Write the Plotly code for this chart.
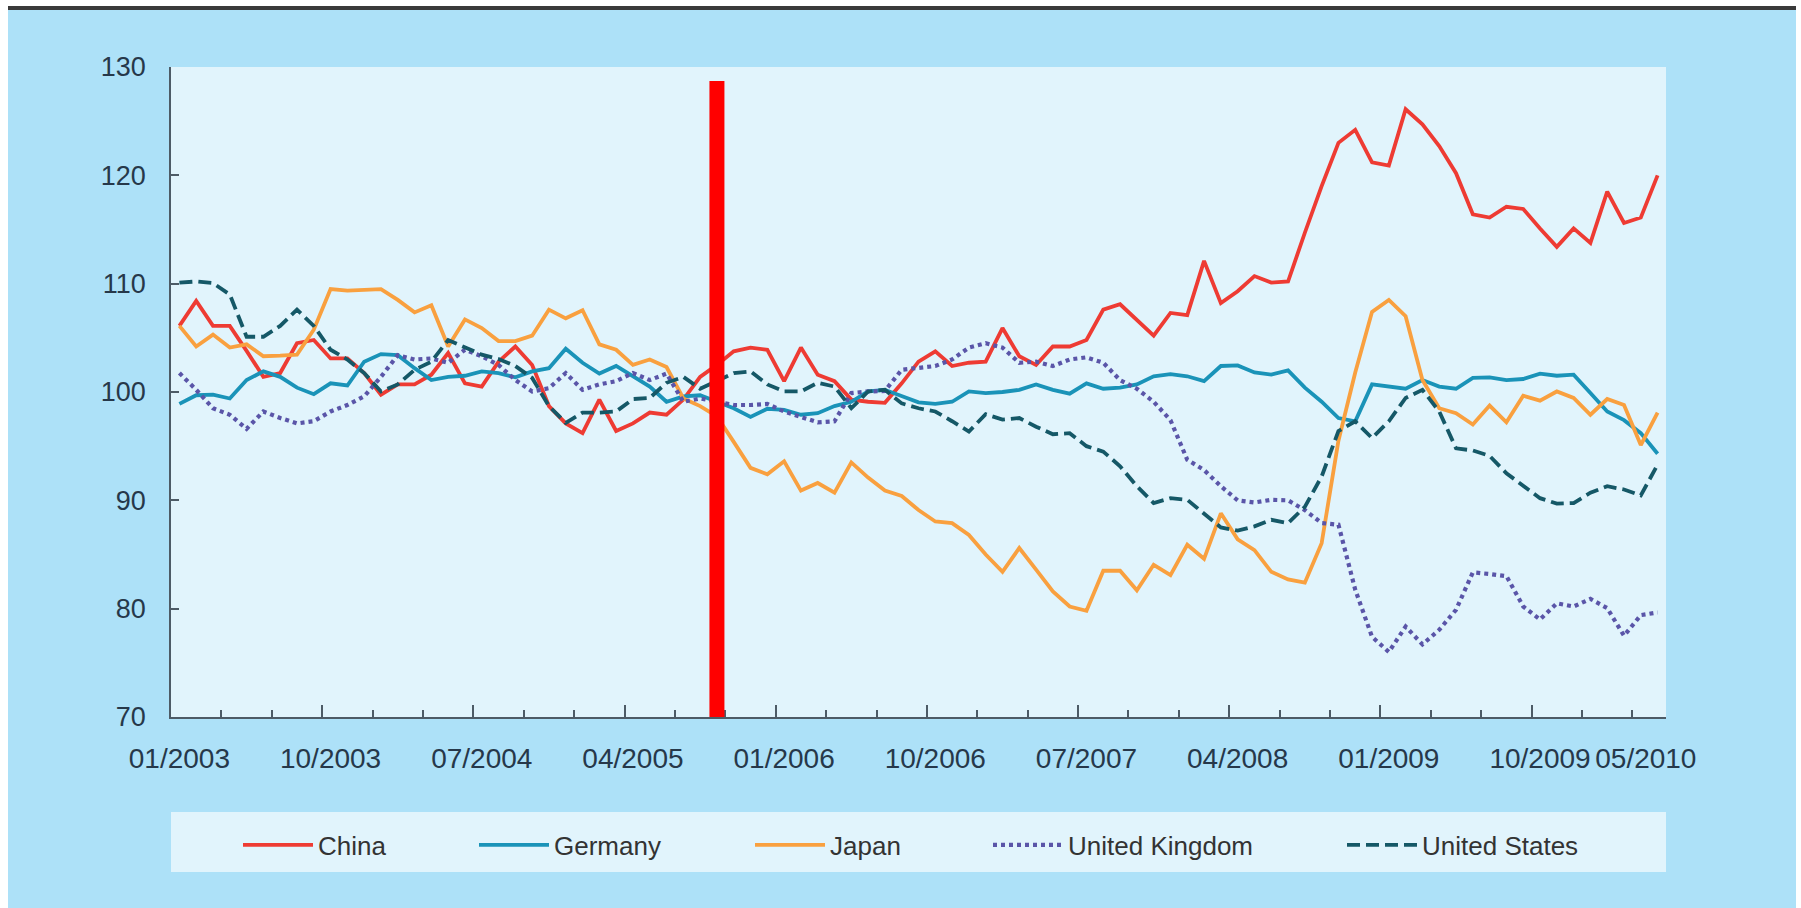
import plotly.graph_objects as go

# Monthly index values, 01/2003 .. 05/2010 (89 months)
months = [f"{m:02d}/{y}" for y in range(2003, 2011) for m in range(1, 13)][:89]

china = [106.1, 108.4, 106.1, 106.1, 103.8, 101.4, 101.75, 104.5, 104.8, 103.1,
         103.1, 101.75, 99.75, 100.7, 100.7, 101.6, 103.6, 100.8, 100.5, 102.8,
         104.2, 102.5, 98.7, 97.1, 96.2, 99.3, 96.4, 97.1, 98.1, 97.9,
         99.3, 101.4, 102.5, 103.75, 104.1, 103.9, 101.0, 104.1, 101.6, 101.0,
         99.3, 99.1, 99.0, 100.8, 102.8, 103.75, 102.4, 102.7, 102.8, 105.9,
         103.3, 102.5, 104.2, 104.2, 104.8, 107.6, 108.1, 106.7, 105.2, 107.3,
         107.1, 112.1, 108.2, 109.3, 110.7, 110.1, 110.2, 114.7, 119.0, 123.0,
         124.2, 121.2, 120.9, 126.1, 124.7, 122.7, 120.2, 116.4, 116.1, 117.1,
         116.9, 115.1, 113.4, 115.1, 113.75, 118.5, 115.6, 116.1, 120.0]

germany = [98.9, 99.7, 99.75, 99.4, 101.1, 101.9, 101.4, 100.4, 99.8, 100.8,
           100.6, 102.8, 103.5, 103.4, 102.2, 101.1, 101.4, 101.5, 101.9, 101.75,
           101.35, 101.9, 102.2, 104.0, 102.7, 101.7, 102.4, 101.4, 100.5, 99.1,
           99.6, 99.7, 99.1, 98.5, 97.7, 98.45, 98.35, 97.9, 98.05, 98.7,
           99.1, 100.05, 100.2, 99.6, 99.05, 98.9, 99.1, 100.05, 99.9, 100.0,
           100.2, 100.7, 100.2, 99.85, 100.8, 100.3, 100.4, 100.7, 101.45, 101.65,
           101.45, 101.0, 102.4, 102.45, 101.8, 101.6, 102.0, 100.4, 99.1, 97.6,
           97.3, 100.7, 100.5, 100.3, 101.1, 100.5, 100.3, 101.3, 101.35, 101.1,
           101.2, 101.7, 101.5, 101.6, 99.9, 98.2, 97.4, 96.2, 94.3]

japan = [106.1, 104.2, 105.3, 104.1, 104.4, 103.3, 103.35, 103.45, 105.75, 109.5,
         109.35, 109.4, 109.5, 108.5, 107.35, 108.0, 104.2, 106.7, 105.9, 104.7,
         104.7, 105.2, 107.6, 106.8, 107.55, 104.4, 103.9, 102.5, 103.0, 102.3,
         99.4, 98.7, 97.75, 95.4, 93.0, 92.4, 93.6, 90.9, 91.6, 90.7,
         93.5, 92.1, 90.9, 90.4, 89.1, 88.05, 87.9, 86.8, 85.0, 83.4,
         85.6, 83.6, 81.6, 80.2, 79.8, 83.5, 83.5, 81.7, 84.05, 83.1,
         85.9, 84.6, 88.8, 86.4, 85.4, 83.4, 82.7, 82.4, 86.05, 95.5,
         101.8, 107.4, 108.5, 107.0, 101.1, 98.5, 98.05, 97.0, 98.75, 97.2,
         99.65, 99.2, 100.05, 99.45, 97.9, 99.35, 98.8, 95.1, 98.1]

uk = [101.75, 100.2, 98.5, 97.9, 96.6, 98.2, 97.6, 97.1, 97.3, 98.2,
      98.8, 99.6, 101.4, 103.4, 103.0, 103.1, 102.7, 103.9, 103.3, 102.5,
      101.1, 100.05, 100.35, 101.75, 100.2, 100.7, 101.0, 101.75, 101.1, 101.7,
      99.1, 99.4, 99.1, 98.8, 98.8, 98.9, 98.2, 97.75, 97.2, 97.3,
      99.9, 100.05, 100.1, 102.05, 102.2, 102.4, 103.0, 104.1, 104.5, 104.1,
      102.7, 102.8, 102.4, 103.0, 103.2, 102.7, 101.1, 100.3, 99.1, 97.4,
      93.75, 92.8, 91.3, 90.0, 89.8, 90.05, 90.0, 89.1, 87.9, 87.75,
      81.75, 77.4, 76.0, 78.35, 76.7, 78.05, 79.9, 83.35, 83.2, 83.0,
      80.2, 79.0, 80.5, 80.2, 80.9, 80.05, 77.5, 79.4, 79.65]

us = [110.1, 110.2, 110.05, 109.0, 105.1, 105.1, 106.1, 107.6, 106.1, 103.9,
      103.0, 101.75, 100.05, 100.7, 102.05, 102.8, 104.8, 104.1, 103.45, 103.05,
      102.4, 101.3, 98.7, 97.15, 98.1, 98.1, 98.2, 99.35, 99.45, 100.85,
      101.4, 100.3, 101.0, 101.75, 101.9, 100.7, 100.05, 100.05, 100.85, 100.5,
      98.5, 100.05, 100.2, 98.95, 98.5, 98.2, 97.3, 96.35, 97.95, 97.45,
      97.6, 96.8, 96.1, 96.2, 95.0, 94.5, 93.15, 91.3, 89.75, 90.2,
      90.05, 88.8, 87.5, 87.2, 87.6, 88.2, 87.9, 89.4, 92.2, 96.4,
      97.3, 95.75, 97.3, 99.45, 100.2, 98.2, 94.8, 94.6, 94.1, 92.5,
      91.4, 90.2, 89.7, 89.75, 90.7, 91.3, 91.0, 90.45, 93.3]

tick_labels = ["01/2003", "10/2003", "07/2004", "04/2005", "01/2006", "10/2006",
               "07/2007", "04/2008", "01/2009", "10/2009", "05/2010"]
event_month = "09/2005"
event_top = 128.7

# each month is plotted at the centre of its slot on a 0..89 axis
xs = [i + 0.5 for i in range(len(months))]
label_pos = [months.index(t) + 0.5 for t in tick_labels]
label_pos[-1] -= 0.7  # last label kept inside the frame
event_x = months.index(event_month) + 0.5

FONT = "Liberation Sans, Arial, sans-serif"
AXIS = "#4d5b66"
TXT = "#26384a"
PAPER = "#ADE1F8"
PANEL = "#E1F4FC"

series = [
    ("China", china, dict(color="#EE3B33", width=3.8)),
    ("Germany", germany, dict(color="#1A93B8", width=3.8)),
    ("Japan", japan, dict(color="#F9A03F", width=3.8)),
    ("United Kingdom", uk, dict(color="#5A55A8", width=4.2, dash="4px,4px")),
    ("United States", us, dict(color="#155867", width=3.8, dash="13px,6px")),
]

# plot frame in pixels
W, H = 1801, 908
ML, MR, MT, MB = 171, 135, 67, 191
PW, PH = W - ML - MR, H - MT - MB


def px_x(px):
    return (px - ML) / PW


def px_y(py):
    return (H - MB - py) / PH


fig = go.Figure()
legend_starts = [243, 479, 755, 993, 1347]
legends = {}
for k, (name, vals, line) in enumerate(series):
    lid = "legend" if k == 0 else f"legend{k + 1}"
    fig.add_trace(go.Scatter(x=xs, y=vals, name=name, mode="lines", line=line,
                             legend=lid, hoverinfo="skip"))
    legends[lid] = dict(x=px_x(legend_starts[k] - 5), y=px_y(845),
                        xanchor="left", yanchor="middle",
                        bgcolor="rgba(0,0,0,0)", borderwidth=0,
                        itemwidth=70, orientation="h",
                        font=dict(family=FONT, size=26, color="#333333"))

# helper trace so the label axis is drawn
fig.add_trace(go.Scatter(x=[None], y=[None], xaxis="x2", showlegend=False,
                         hoverinfo="skip"))

shapes = [
    # frame decorations
    dict(type="rect", xref="paper", yref="paper", x0=px_x(0), x1=px_x(W),
         y0=px_y(0), y1=px_y(6), fillcolor="white", line_width=0),
    dict(type="rect", xref="paper", yref="paper", x0=px_x(8), x1=px_x(1796),
         y0=px_y(6), y1=px_y(10), fillcolor="#3a3a3a", line_width=0),
    dict(type="rect", xref="paper", yref="paper", x0=px_x(0), x1=px_x(8),
         y0=px_y(0), y1=px_y(H), fillcolor="white", line_width=0),
    dict(type="rect", xref="paper", yref="paper", x0=px_x(1796), x1=px_x(W),
         y0=px_y(0), y1=px_y(H), fillcolor="white", line_width=0),
    # legend panel
    dict(type="rect", xref="paper", yref="paper", x0=0, x1=1,
         y0=px_y(872), y1=px_y(812), fillcolor=PANEL, line_width=0),
    # event marker
    dict(type="line", xref="x", yref="y", x0=event_x, x1=event_x,
         y0=70, y1=event_top, line=dict(color="#FF0000", width=15)),
]

fig.update_layout(
    width=W, height=H,
    margin=dict(l=ML, r=MR, t=MT, b=MB, autoexpand=False),
    paper_bgcolor=PAPER, plot_bgcolor=PANEL,
    font=dict(family=FONT, color=TXT),
    shapes=shapes,
    showlegend=True,
    xaxis=dict(range=[0, 89], tickmode="linear", tick0=0, dtick=9,
               ticks="inside", ticklen=12, tickwidth=1.5, tickcolor=AXIS,
               showticklabels=False, showline=True, linecolor=AXIS, linewidth=2,
               showgrid=False, zeroline=False,
               minor=dict(tick0=0, dtick=3, ticks="inside", ticklen=7,
                          tickwidth=1.5, tickcolor=AXIS, showgrid=False)),
    xaxis2=dict(overlaying="x", anchor="y", side="bottom", range=[0, 89],
                tickmode="array", tickvals=label_pos, ticktext=tick_labels,
                ticks="", showline=False, showgrid=False, zeroline=False,
                tickangle=0, ticklabelstandoff=22,
                tickfont=dict(family=FONT, size=28, color=TXT)),
    yaxis=dict(range=[70, 130], tickmode="linear", tick0=70, dtick=10,
               ticks="inside", ticklen=8, tickwidth=1.5, tickcolor=AXIS,
               showline=True, linecolor=AXIS, linewidth=1.5,
               showgrid=False, zeroline=False, ticklabelstandoff=18,
               tickfont=dict(family=FONT, size=27, color=TXT)),
    **legends,
)

fig.write_html("out.html")
